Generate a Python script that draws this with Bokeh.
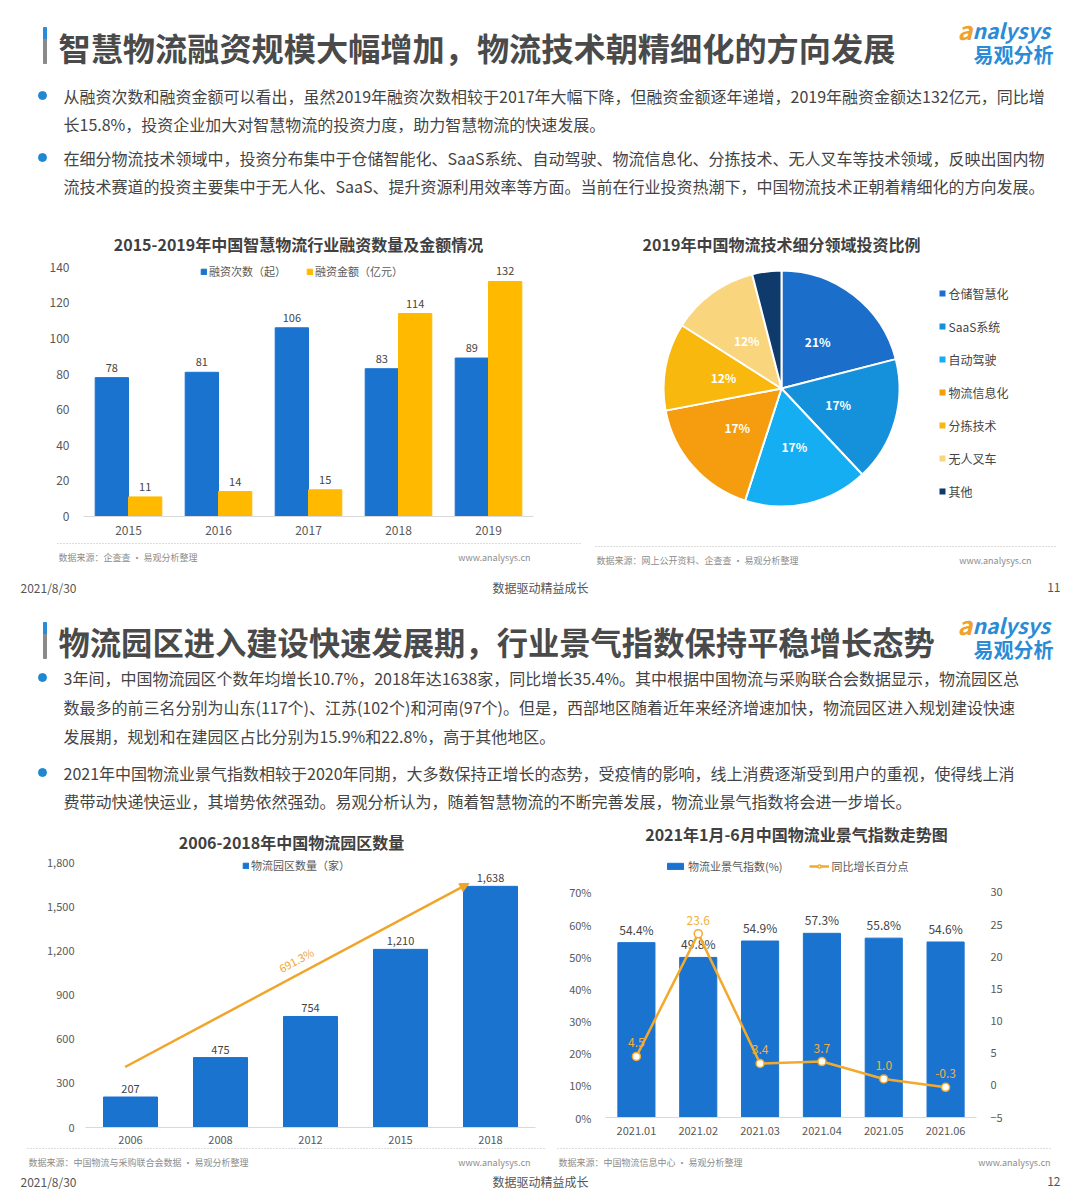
import numpy as np
from bokeh.plotting import figure
from bokeh.layouts import column, row
from bokeh.models import (Range1d, FactorRange, Legend, LegendItem, FixedTicker,
                          NumeralTickFormatter, PrintfTickFormatter, LinearAxis,
                          Arrow, NormalHead, ColumnDataSource)
from bokeh.transform import dodge
from bokeh.core.properties import value
from bokeh.embed import file_html
from bokeh.resources import INLINE

FONT = "Noto Sans CJK SC"
TEXT = "#444444"
AXIS_TXT = "#595959"
BLUE = "#1A73CF"
YELLOW = "#FFBA00"
ORANGE = "#F0A52A"
LOGO_BLUE = "#2A8BD6"
SRC_GREY = "#8C8C8C"

# ---------------- data ----------------
fin_years = ["2015", "2016", "2017", "2018", "2019"]
fin_counts = [78, 81, 106, 83, 89]
fin_amounts = [11, 14, 15, 114, 132]

tech_fields = ["仓储智慧化", "SaaS系统", "自动驾驶", "物流信息化", "分拣技术", "无人叉车", "其他"]
tech_shares = [21, 17, 17, 17, 12, 12, 4]
tech_colors = ["#1B6FCB", "#1590DA", "#16AEF2", "#F59C0F", "#F8B80E", "#F9D57D", "#0F3B6C"]

park_years = ["2006", "2008", "2012", "2015", "2018"]
park_counts = [207, 475, 754, 1210, 1638]

lpi_months = ["2021.01", "2021.02", "2021.03", "2021.04", "2021.05", "2021.06"]
lpi_index = [54.4, 49.8, 54.9, 57.3, 55.8, 54.6]
lpi_yoy = [4.5, 23.6, 3.4, 3.7, 1.0, -0.3]

title1 = "智慧物流融资规模大幅增加，物流技术朝精细化的方向发展"
bullets1 = [
    "从融资次数和融资金额可以看出，虽然2019年融资次数相较于2017年大幅下降，但融资金额逐年递增，2019年融资金额达132亿元，同比增",
    "长15.8%，投资企业加大对智慧物流的投资力度，助力智慧物流的快速发展。",
    "在细分物流技术领域中，投资分布集中于仓储智能化、SaaS系统、自动驾驶、物流信息化、分拣技术、无人叉车等技术领域，反映出国内物",
    "流技术赛道的投资主要集中于无人化、SaaS、提升资源利用效率等方面。当前在行业投资热潮下，中国物流技术正朝着精细化的方向发展。",
]
title2 = "物流园区进入建设快速发展期，行业景气指数保持平稳增长态势"
bullets2 = [
    "3年间，中国物流园区个数年均增长10.7%，2018年达1638家，同比增长35.4%。其中根据中国物流与采购联合会数据显示，物流园区总",
    "数最多的前三名分别为山东(117个)、江苏(102个)和河南(97个)。但是，西部地区随着近年来经济增速加快，物流园区进入规划建设快速",
    "发展期，规划和在建园区占比分别为15.9%和22.8%，高于其他地区。",
    "2021年中国物流业景气指数相较于2020年同期，大多数保持正增长的态势，受疫情的影响，线上消费逐渐受到用户的重视，使得线上消",
    "费带动快递快运业，其增势依然强劲。易观分析认为，随着智慧物流的不断完善发展，物流业景气指数将会进一步增长。",
]


# ---------------- helpers ----------------
def strip(h, w=1080):
    p = figure(width=w, height=h, x_range=Range1d(0, w), y_range=Range1d(h, 0),
               output_backend="svg", toolbar_location=None, min_border=0,
               x_axis_location=None, y_axis_location=None)
    p.xgrid.visible = False
    p.ygrid.visible = False
    p.outline_line_color = None
    return p


def txt(p, x, y, s, size, color=TEXT, align="left", style="normal", baseline="middle"):
    p.text(x=[x], y=[y], text=[s], text_font=value(FONT), text_font_size=f"{size}px",
           text_color=color, text_align=align, text_baseline=baseline,
           text_font_style=style)


def logo(p, y):
    txt(p, 957, y - 1, "a", 25, "#F0A12C", style="bold italic")
    txt(p, 972, y, "nalysys", 21, LOGO_BLUE, style="bold italic")
    txt(p, 1053, y + 25, "易观分析", 20, LOGO_BLUE, align="right", style="bold")


def headline(p, y, s, size=32):
    p.quad(left=[43], right=[46], top=[y - 19], bottom=[y - 7], color="#2A8BD6")
    p.quad(left=[43], right=[46], top=[y - 7], bottom=[y + 17], color="#8A8A8A")
    txt(p, 58, y, s, size, "#4A4A4A", style="bold")


def bullets(p, lines, ys, dots):
    p.scatter(x=[42] * len(dots), y=dots, size=8, color="#1E88D2")
    for s, y in zip(lines, ys):
        txt(p, 63, y, s, 16, TEXT)


def source_line(p, y, x0, x1, src, www_right):
    p.line(x=[x0, x1], y=[y, y], line_color="#BBBBBB", line_width=1, line_dash="1 2")
    txt(p, x0 + 1, y + 14, src, 9, SRC_GREY)
    txt(p, www_right, y + 14, "www.analysys.cn", 9, SRC_GREY, align="right")


def footer(p, y, page):
    txt(p, 20, y, "2021/8/30", 12, "#555555")
    txt(p, 540, y, "数据驱动精益成长", 12, "#555555", align="center")
    txt(p, 1060, y, page, 12, "#555555", align="right")


def style_axes(p):
    for ax in p.axis:
        ax.axis_line_color = None
        ax.major_tick_line_color = None
        ax.minor_tick_line_color = None
        ax.major_label_text_font = FONT
        ax.major_label_text_color = AXIS_TXT
    p.xaxis.axis_line_color = "#D9D9D9"
    p.xgrid.visible = False
    p.ygrid.visible = False
    p.outline_line_color = None


# ---------------- slide 11 header ----------------
h1 = strip(255)
headline(h1, 46, title1, size=32.2)
logo(h1, 29)
bullets(h1, bullets1, [95, 123, 157, 185], [95, 157])
txt(h1, 298, 243, "2015-2019年中国智慧物流行业融资数量及金额情况", 16, "#404040", align="center", style="bold")
txt(h1, 781, 243, "2019年中国物流技术细分领域投资比例", 16, "#404040", align="center", style="bold")

# ---------------- financing bar chart ----------------
src1 = ColumnDataSource(dict(year=fin_years, count=fin_counts, amount=fin_amounts,
                             count_lbl=[str(v) for v in fin_counts],
                             amount_lbl=[str(v) for v in fin_amounts]))
c1 = figure(width=580, height=283, x_range=FactorRange(*fin_years), y_range=Range1d(0, 146.6),
            output_backend="svg", toolbar_location=None,
            min_border_left=83, min_border_right=47, min_border_top=0, min_border_bottom=22)
r_cnt = c1.vbar(x=dodge("year", -0.185, range=c1.x_range), top="count", width=0.37,
                source=src1, color=BLUE)
r_amt = c1.vbar(x=dodge("year", 0.185, range=c1.x_range), top="amount", width=0.37,
                source=src1, color=YELLOW)
c1.text(x=dodge("year", -0.185, range=c1.x_range), y="count", text="count_lbl", source=src1,
        text_font=value(FONT), text_font_size="11px", text_color=TEXT,
        text_align="center", text_baseline="bottom", y_offset=-6)
c1.text(x=dodge("year", 0.185, range=c1.x_range), y="amount", text="amount_lbl", source=src1,
        text_font=value(FONT), text_font_size="11px", text_color=TEXT,
        text_align="center", text_baseline="bottom", y_offset=-6)
c1.yaxis.ticker = FixedTicker(ticks=list(range(0, 141, 20)))
style_axes(c1)
c1.yaxis.major_label_standoff = 8
c1.xaxis.major_label_standoff = 3
c1.yaxis.major_label_text_font_size = "12px"
c1.xaxis.major_label_text_font_size = "12px"
leg1 = Legend(items=[LegendItem(label="融资次数（起）", renderers=[r_cnt]),
                     LegendItem(label="融资金额（亿元）", renderers=[r_amt])],
              location=(117, 237), orientation="horizontal", glyph_width=7, glyph_height=7,
              label_text_font=FONT, label_text_font_size="11px", label_text_color=AXIS_TXT,
              label_standoff=2, spacing=20, padding=0, label_height=12,
              border_line_color=None, background_fill_alpha=0)
c1.add_layout(leg1, "center")

# ---------------- investment pie ----------------
# same top/bottom borders as the bar chart beside it, so the frame is 500 x 261 px
PIE_W, PIE_H, PIE_BOTTOM_BORDER, PIE_TOP, PIE_LEFT = 500, 283, 22, 255, 580
PIE_FH = PIE_H - PIE_BOTTOM_BORDER
pie = figure(width=PIE_W, height=PIE_H, x_range=Range1d(0, PIE_W), y_range=Range1d(0, PIE_FH),
             output_backend="svg", toolbar_location=None, min_border=0,
             min_border_bottom=PIE_BOTTOM_BORDER, x_axis_location=None, y_axis_location=None)
pie.xgrid.visible = False
pie.ygrid.visible = False
pie.outline_line_color = None


def pie_x(px):
    return px - PIE_LEFT


def pie_y(py):
    return PIE_FH - (py - PIE_TOP)


shares = np.array(tech_shares, dtype=float)
frac = shares / shares.sum()
cum = np.concatenate([[0.0], np.cumsum(frac)])
start = np.pi / 2 - cum[:-1] * 2 * np.pi
end = np.pi / 2 - cum[1:] * 2 * np.pi
mid = (start + end) / 2
cx, cy, rad = pie_x(781), pie_y(388), 118.0
pie_src = ColumnDataSource(dict(field=tech_fields, share=tech_shares, start=start, end=end,
                                color=tech_colors))
pie.wedge(x=cx, y=cy, radius=rad, start_angle="start", end_angle="end",
          direction="clock", fill_color="color", line_color="white", line_width=2,
          source=pie_src)
lbl_idx = [i for i, s in enumerate(tech_shares) if s >= 10]
pie.text(x=[cx + 0.5 * rad * np.cos(mid[i]) for i in lbl_idx],
         y=[cy + 0.5 * rad * np.sin(mid[i]) for i in lbl_idx],
         text=[f"{tech_shares[i]}%" for i in lbl_idx],
         text_font=value(FONT), text_font_size="12px", text_font_style="bold",
         text_color="white", text_align="center", text_baseline="middle")
# legend: small squares with category names
leg_y = [pie_y(293 + 33 * i) for i in range(len(tech_fields))]
pie.scatter(x=[pie_x(942)] * len(tech_fields), y=leg_y, marker="square", size=6,
            color=tech_colors, line_color=None)
pie.text(x=[pie_x(948)] * len(tech_fields), y=leg_y, text=tech_fields,
         text_font=value(FONT), text_font_size="12px", text_color=TEXT,
         text_align="left", text_baseline="middle")

# ---------------- middle strip: sources, footer, slide 12 header ----------------
m = strip(316)
source_line(m, 5, 57, 580, "数据来源：企查查 • 易观分析整理", 530)
source_line(m, 8, 595, 1057, "数据来源：网上公开资料、企查查 • 易观分析整理", 1031)
footer(m, 49, "11")
headline(m, 103, title2, size=31.3)
logo(m, 86)
bullets(m, bullets2, [139, 168, 197, 234, 262], [139, 234])
txt(m, 291, 303, "2006-2018年中国物流园区数量", 16, "#404040", align="center", style="bold")
txt(m, 796, 295, "2021年1月-6月中国物流业景气指数走势图", 16, "#404040", align="center", style="bold")

# ---------------- logistics parks bar chart ----------------
src3 = ColumnDataSource(dict(year=park_years, cnt=park_counts,
                             lbl=[f"{v:,}" for v in park_counts]))
C3_YMAX = 1854.4
c3 = figure(width=540, height=292, x_range=FactorRange(*park_years), y_range=Range1d(0, C3_YMAX),
            output_backend="svg", toolbar_location=None,
            min_border_left=85, min_border_right=5, min_border_top=0, min_border_bottom=17)
r_park = c3.vbar(x="year", top="cnt", width=0.6, source=src3, color=BLUE)
c3.text(x="year", y="cnt", text="lbl", source=src3, text_font=value(FONT), text_font_size="11px",
        text_color=TEXT, text_align="center", text_baseline="bottom", y_offset=-4)
c3.yaxis.ticker = FixedTicker(ticks=list(range(0, 1801, 300)))
c3.yaxis.formatter = NumeralTickFormatter(format="0,0")
style_axes(c3)
c3.yaxis.major_label_standoff = 5
c3.xaxis.major_label_standoff = 2
c3.yaxis.major_label_text_font_size = "11px"
c3.xaxis.major_label_text_font_size = "11px"
# growth arrow from the first to the last year
ax0, ay0, ax1, ay1 = 0.44, 411, 4.26, 1658
c3.add_layout(Arrow(end=NormalHead(size=9, fill_color=ORANGE, line_color=ORANGE),
                    x_start=ax0, y_start=ay0, x_end=ax1, y_end=ay1,
                    line_color=ORANGE, line_width=2.5))
px_per_cat = 450 / len(park_years)
px_per_unit = 275 / C3_YMAX
ang = np.arctan2((ay1 - ay0) * px_per_unit, (ax1 - ax0) * px_per_cat)
growth = (park_counts[-1] / park_counts[0] - 1) * 100
c3.text(x=[2.34], y=[1139], text=[f"{growth:.1f}%"], angle=ang, text_font=value(FONT),
        text_font_size="11px", text_color=ORANGE, text_align="center", text_baseline="middle")
leg3 = Legend(items=[LegendItem(label="物流园区数量（家）", renderers=[r_park])],
              location=(157, 254), orientation="horizontal", glyph_width=7, glyph_height=7,
              label_text_font=FONT, label_text_font_size="11px", label_text_color=AXIS_TXT,
              label_standoff=2, padding=0, label_height=12,
              border_line_color=None, background_fill_alpha=0)
c3.add_layout(leg3, "center")

# ---------------- logistics prosperity index chart ----------------
src4 = ColumnDataSource(dict(month=lpi_months, idx=lpi_index, yoy=lpi_yoy,
                             idx_lbl=[f"{v}%" for v in lpi_index],
                             yoy_lbl=[f"{v}" for v in lpi_yoy]))
C4_YMAX = 81.82
c4 = figure(width=540, height=292, x_range=FactorRange(*lpi_months), y_range=Range1d(0, C4_YMAX),
            output_backend="svg", toolbar_location=None,
            min_border_left=65, min_border_right=104, min_border_top=0, min_border_bottom=29)
c4.extra_y_ranges = {"yoy": Range1d(-5, C4_YMAX / 2 - 5)}
r_idx = c4.vbar(x="month", top="idx", width=0.6, source=src4, color=BLUE)
c4.text(x="month", y="idx", text="idx_lbl", source=src4, text_font=value(FONT),
        text_font_size="12px", text_color=TEXT, text_align="center", text_baseline="bottom",
        y_offset=-5)
r_line = c4.line(x="month", y="yoy", source=src4, y_range_name="yoy", line_color="#F2AA2E",
                 line_width=2.5)
r_pts = c4.scatter(x="month", y="yoy", source=src4, y_range_name="yoy", size=8,
                   fill_color="white", line_color="#F2AA2E", line_width=1.5)
c4.text(x="month", y="yoy", text="yoy_lbl", source=src4, y_range_name="yoy",
        text_font=value(FONT), text_font_size="12px", text_color="#F0B040",
        text_align="center", text_baseline="bottom", y_offset=-9)
c4.yaxis.ticker = FixedTicker(ticks=list(range(0, 71, 10)))
c4.yaxis.formatter = PrintfTickFormatter(format="%d%%")
right = LinearAxis(y_range_name="yoy", ticker=FixedTicker(ticks=list(range(-5, 31, 5))))
c4.add_layout(right, "right")
style_axes(c4)
for a in c4.yaxis:
    a.major_label_standoff = 8
    a.major_label_text_font_size = "11px"
c4.xaxis.major_label_standoff = 3
c4.xaxis.major_label_text_font_size = "11px"
leg4 = Legend(items=[LegendItem(label="物流业景气指数(%)", renderers=[r_idx]),
                     LegendItem(label="同比增长百分点", renderers=[r_line, r_pts])],
              location=(60, 243), orientation="horizontal", glyph_width=20, glyph_height=8,
              label_text_font=FONT, label_text_font_size="11px", label_text_color=AXIS_TXT,
              label_standoff=3, spacing=26, padding=0, label_height=12,
              border_line_color=None, background_fill_alpha=0)
c4.add_layout(leg4, "center")

# ---------------- bottom strip ----------------
b = strip(50)
source_line(b, 2, 27, 546, "数据来源：中国物流与采购联合会数据 • 易观分析整理", 530)
source_line(b, 2, 557, 1052, "数据来源：中国物流信息中心 • 易观分析整理", 1050)
footer(b, 35, "12")

# the two lower charts sit in their own columns so their frames keep their own borders
page = column(h1, row(c1, pie), m, row(column(c3), column(c4)), b)
with open("out.html", "w") as f:
    f.write(file_html(page, INLINE, title="智慧物流"))
